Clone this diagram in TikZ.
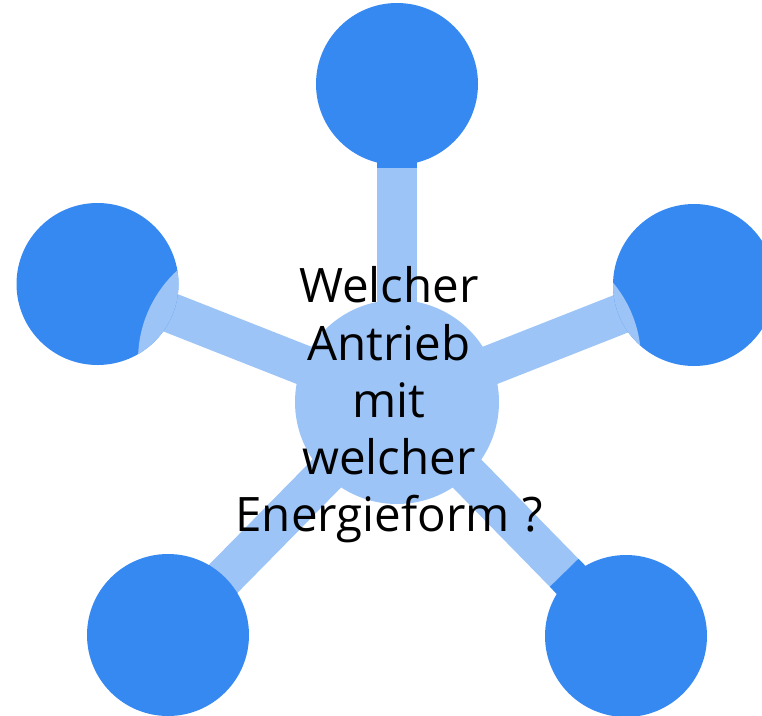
\documentclass[tikz,border=0pt]{standalone}
\usepackage{fontspec}
\setmainfont{Open Sans}
\usetikzlibrary{calc}
\definecolor{darkblue}{RGB}{55,137,242}
\definecolor{lightblue}{RGB}{157,196,247}
\pgfdeclarelayer{bg}
\pgfsetlayers{bg,main}
\begin{document}
\begin{tikzpicture}[x=1pt,y=-1pt,
  outer/.style={circle,fill=darkblue,minimum size=162pt,inner sep=0pt},
  hubstyle/.style={circle,fill=lightblue,minimum size=204pt,inner sep=0pt},
  band/.style={draw=lightblue,line width=40pt},
  stub/.style={draw=darkblue,line width=40pt},
  lens/.style={fill=lightblue},
  qtext/.style={align=center,inner sep=0pt,font=\fontsize{47.5}{57.2}\selectfont}]
\useasboundingbox (0,0) rectangle (762,715);
\node[outer] (nT) at (397,84) {};
\node[outer] (nL) at (97.5,284) {};
\node[outer] (nR) at (694,285) {};
\node[outer] (nBL) at (168,635) {};
\node[outer] (nBR) at (626,636) {};
\begin{scope}
  \clip (nL.center) circle[radius=81];
  \fill[lens] (260,360) circle[radius=122];
\end{scope}
\begin{scope}
  \clip (nR.center) circle[radius=81];
  \fill[lens] (520,360) circle[radius=121];
\end{scope}
\node[hubstyle] (hub) at (397,402) {};
\node[qtext] (q) at (389,405) {Welcher\\Antrieb\\mit\\welcher\\Energieform ?};
\begin{pgfonlayer}{bg}
  \foreach \n in {nT,nL,nR,nBL,nBR} \draw[band] (hub.center) -- (\n.center);
  \draw[stub] ($(hub.center)!234pt!(nT.center)$) -- (nT.center);
  \draw[stub] ($(hub.center)!248pt!(nBL.center)$) -- (nBL.center);
  \draw[stub] ($(hub.center)!239pt!(nBR.center)$) -- (nBR.center);
\end{pgfonlayer}
\end{tikzpicture}
\end{document}
